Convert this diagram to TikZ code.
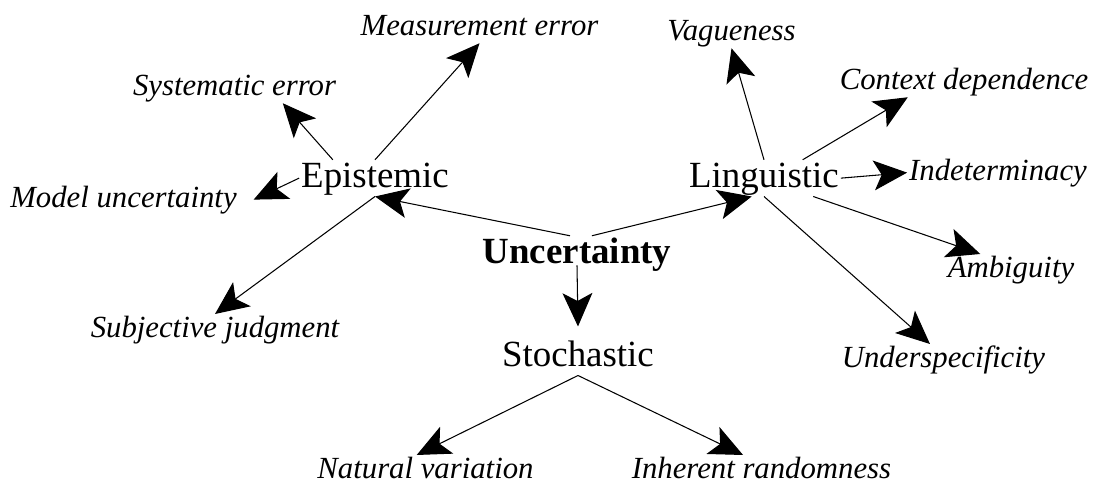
\documentclass[tikz,border=0pt]{standalone}
\usepackage{fontspec}
\setmainfont{Liberation Serif}
\usetikzlibrary{arrows.meta}
\begin{document}
\begin{tikzpicture}[x=0.02cm,y=-0.02cm,>={Stealth[length=19pt,width=17pt,inset=4.5pt]},
    mainnode/.style={anchor=base,inner sep=1pt,text height=14.3pt,text depth=4.2pt,font=\fontsize{21}{25}\selectfont},
    leafnode/.style={anchor=base,inner sep=1pt,text height=11.9pt,text depth=3.5pt,font=\fontsize{17.5}{21}\selectfont\itshape},
    arr/.style={->,line width=0.6pt}]
\useasboundingbox (0,0) rectangle (1099,484);
% the three kinds
\node[mainnode,font=\fontsize{21}{25}\selectfont\bfseries](unc) at (577,263){Uncertainty};
\node[mainnode](epi) at (375,187){Epistemic};
\node[mainnode](ling) at (764,187){Linguistic};
\node[mainnode](sto) at (578,366){Stochastic};
% epistemic
\node[leafnode](meas) at (479.5,35){Measurement error};
\node[leafnode](sys) at (234.5,95){Systematic error};
\node[leafnode](mod) at (123.5,207){Model uncertainty};
\node[leafnode](subj) at (215,337){Subjective judgment};
% linguistic
\node[leafnode](vag) at (731.5,40){Vagueness};
\node[leafnode](ctx) at (964,89){Context dependence};
\node[leafnode](ind) at (998,180){Indeterminacy};
\node[leafnode](amb) at (1011,277){Ambiguity};
\node[leafnode](und) at (943.5,367){Underspecificity};
% stochastic
\node[leafnode](nat) at (425.5,478){Natural variation};
\node[leafnode](inh) at (761.5,478){Inherent randomness};

\draw[arr]([xshift=-4pt]unc.north)--(epi.south);
\draw[arr]([xshift=8.5pt]unc.north)--([xshift=-7pt]ling.south);
\draw[arr]([yshift=4pt]unc.south)--([yshift=7pt]sto.north);

\draw[arr](epi.north)--(meas.south);
\draw[arr]([xshift=-24pt]epi.north)--([xshift=27.5pt]sys.south);
\draw[arr](epi.west)--([xshift=8.5pt]mod.east);
\draw[arr](epi.south)--(subj.north);

\draw[arr](ling.north)--(vag.south);
\draw[arr]([xshift=22pt]ling.north)--([xshift=-32pt]ctx.south);
\draw[arr](ling.east)--(ind.west);
\draw[arr]([xshift=28pt]ling.south)--([xshift=-17.5pt]amb.north);
\draw[arr](ling.south)--([xshift=-7.7pt]und.north);

\draw[arr](sto.south)--([xshift=-5pt]nat.north);
\draw[arr](sto.south)--([xshift=-10.5pt]inh.north);
\end{tikzpicture}
\end{document}
